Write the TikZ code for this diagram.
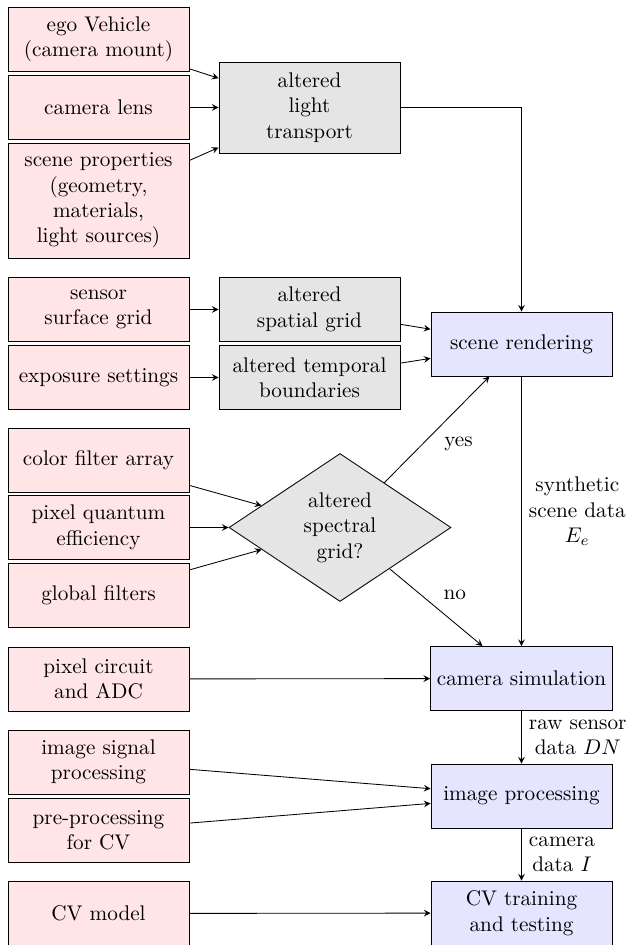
\documentclass[tikz,border=0pt]{standalone}
\usetikzlibrary{shapes.geometric,arrows}
\begin{document}
\begin{tikzpicture}[x=0.4717pt,y=-0.4717pt,
  every node/.style={font=\normalsize},
  base/.style={draw, align=center, minimum width=85.4pt, minimum height=30.2pt, inner sep=3pt},
  inbox/.style={base, fill=red!10},
  altbox/.style={base, fill=gray!20},
  procbox/.style={base, fill=blue!10},
  decbox/.style={draw, fill=gray!20, diamond, shape aspect=1.5, inner sep=0pt, align=center, minimum width=104.7pt, minimum height=69.8pt},
  conn/.style={-stealth},
  lab/.style={align=center}
]
\useasboundingbox (0,0) rectangle (626,945);
% left column
\node[inbox] (ego) at (98.5,39.5) {ego Vehicle\\(camera mount)};
\node[inbox] (lens) at (98.5,107.5) {camera lens};
\node[inbox, minimum height=54.2pt] (scene) at (98.5,200.5) {scene properties\\(geometry,\\materials,\\light sources)};
\node[inbox] (sensor) at (98.5,309.5) {sensor\\surface grid};
\node[inbox] (expo) at (98.5,377.5) {exposure settings};
\node[inbox] (cfa) at (98.5,460) {color filter array};
\node[inbox] (pqe) at (98.5,527.5) {pixel quantum\\efficiency};
\node[inbox] (glob) at (98.5,595.5) {global filters};
\node[inbox] (circ) at (98.5,679) {pixel circuit\\and ADC};
\node[inbox] (isp) at (98.5,762) {image signal\\processing};
\node[inbox] (pre) at (98.5,830.5) {pre-processing\\for CV};
\node[inbox] (cvm) at (98.5,913.5) {CV model};
% middle column
\node[altbox, minimum height=42.9pt] (light) at (309.5,107.5) {altered\\light\\transport};
\node[altbox] (spat) at (309.5,309.5) {altered\\spatial grid};
\node[altbox] (temp) at (309.5,377.5) {altered temporal\\boundaries};
\node[decbox] (spec) at (340,527.5) {altered\\spectral\\grid?};
% right column
\node[procbox] (rend) at (521.5,344) {scene rendering};
\node[procbox] (cam) at (521.5,678.5) {camera simulation};
\node[procbox] (imp) at (521.5,796) {image processing};
\node[procbox] (cvt) at (521.5,913) {CV training\\and testing};
% connectors
\draw[conn] (ego) -- (light);
\draw[conn] (lens) -- (light);
\draw[conn] (scene) -- (light);
\draw[conn] (light.east) -| (rend.north);
\draw[conn] (sensor) -- (spat);
\draw[conn] (expo) -- (temp);
\draw[conn] (spat) -- (rend);
\draw[conn] (temp) -- (rend);
\draw[conn] (cfa) -- (spec);
\draw[conn] (pqe) -- (spec);
\draw[conn] (glob) -- (spec);
\draw[conn] (spec) -- node[midway, below right] {yes} (rend);
\draw[conn] (spec) -- node[midway, above right] {no} (cam);
\draw[conn] (rend) -- node[midway, right, lab] {synthetic\\scene data\\$E_e$} (cam);
\draw[conn] (circ) -- (cam);
\draw[conn] (cam) -- node[midway, right, lab] {raw sensor\\data $DN$} (imp);
\draw[conn] (isp) -- (imp);
\draw[conn] (pre) -- (imp);
\draw[conn] (imp) -- node[midway, right, lab] {camera\\data $I$} (cvt);
\draw[conn] (cvm) -- (cvt);
\end{tikzpicture}
\end{document}
